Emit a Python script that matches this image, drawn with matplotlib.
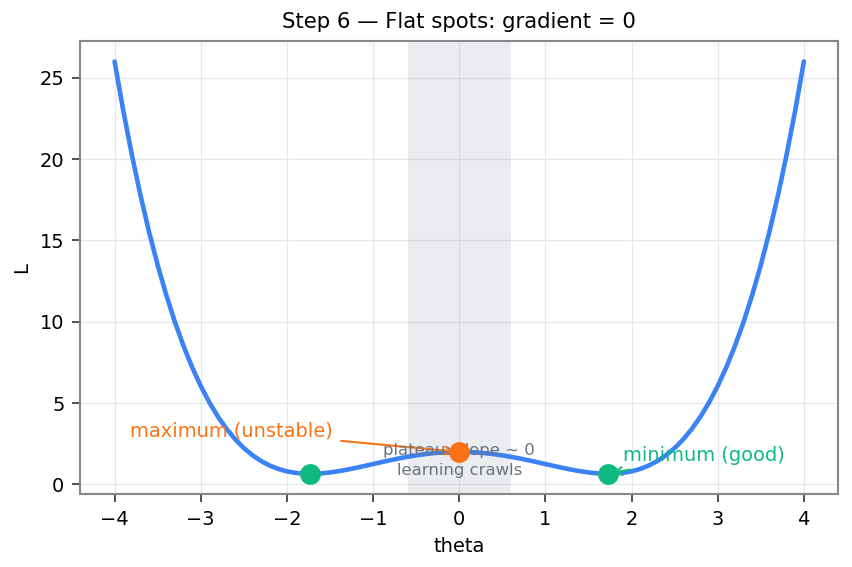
import numpy as np
import matplotlib
matplotlib.use('agg')
import matplotlib.pyplot as plt

# loss curve (right half, mirrored for the left half)
theta_half = [0.0, 0.1, 0.2, 0.3, 0.4, 0.5, 0.6, 0.7, 0.8, 0.9, 1.0,
              1.1, 1.2, 1.3, 1.4, 1.5, 1.6, 1.7, 1.8, 1.9, 2.0,
              2.1, 2.2, 2.3, 2.4, 2.5, 2.6, 2.7, 2.8, 2.9, 3.0,
              3.1, 3.2, 3.3, 3.4, 3.5, 3.6, 3.7, 3.8, 3.9, 4.0]
loss_half = [2.0, 1.991, 1.964, 1.920, 1.860, 1.784, 1.695, 1.595, 1.485, 1.369, 1.25,
             1.131, 1.015, 0.907, 0.812, 0.734, 0.679, 0.652, 0.659, 0.706, 0.8,
             0.948, 1.158, 1.437, 1.793, 2.234, 2.771, 3.411, 4.164, 5.040, 6.05,
             7.204, 8.513, 9.988, 11.641, 13.484, 15.530, 17.791, 20.281, 23.013, 26.0]

min_theta = [-1.73, 1.73]
min_loss = [0.65, 0.65]
max_theta = [0.0]
max_loss = [2.0]
plateau = [-0.6, 0.6]

BLUE = '#3b82f6'
ORANGE = '#f97316'
GREEN = '#10b981'
GRAY = '#6b7280'

theta = np.concatenate([-np.array(theta_half[::-1]), np.array(theta_half[1:])])
loss = np.concatenate([np.array(loss_half[::-1]), np.array(loss_half[1:])])

fig = plt.figure(figsize=(5.68, 3.78), dpi=150)
ax = fig.add_subplot(111)

ax.axvspan(plateau[0], plateau[1], color='#9ca3af', alpha=0.2, lw=0)
ax.plot(theta, loss, color=BLUE, lw=2.2, zorder=3, solid_capstyle='round')
ax.plot(min_theta, min_loss, 'o', color=GREEN, ms=9, zorder=4)
ax.plot(max_theta, max_loss, 'o', color=ORANGE, ms=9, zorder=4)

ax.annotate('maximum (unstable)', xy=(max_theta[0], max_loss[0]), xytext=(-3.82, 3.3),
            color=ORANGE, fontsize=9.3, va='center', ha='left',
            arrowprops=dict(arrowstyle='->', color=ORANGE, lw=1))
ax.annotate('minimum (good)', xy=(min_theta[1], min_loss[1]), xytext=(1.9, 1.8),
            color=GREEN, fontsize=9.3, va='center', ha='left',
            arrowprops=dict(arrowstyle='->', color=GREEN, lw=1))
ax.text(0, 1.45, 'plateau: slope ~ 0\nlearning crawls', color=GRAY, fontsize=7.9,
        ha='center', va='center', linespacing=1.4)

ax.set_xticks(np.arange(-4, 5, 1))
ax.set_yticks(np.arange(0, 30, 5))
ax.grid(True, color='#e5e7eb', lw=0.6)
ax.set_axisbelow(True)
for s in ax.spines.values():
    s.set_color('#888888')
    s.set_linewidth(1.0)
ax.tick_params(direction='out', length=4, color='#333333', labelsize=9.3)
ax.set_xlabel('theta', fontsize=9.3)
ax.set_ylabel('L', fontsize=9.3)
ax.set_title('Step 6 \u2014 Flat spots: gradient = 0', fontsize=10.2)

fig.subplots_adjust(left=0.094, right=0.984, top=0.928, bottom=0.128)
plt.savefig('out.png', dpi=150)
